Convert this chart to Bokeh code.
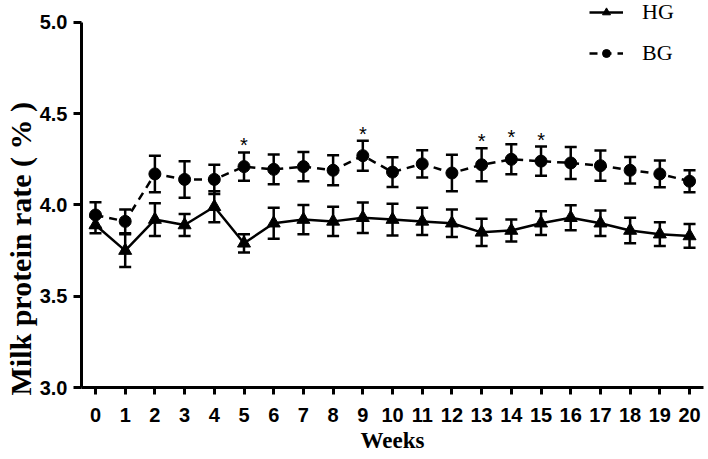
import numpy as np
from bokeh.plotting import figure
from bokeh.models import (ColumnDataSource, Whisker, TeeHead, FixedTicker, Legend, LegendItem,
                          Title, NumeralTickFormatter, Range1d)
from bokeh.core.properties import value
from bokeh.embed import file_html
from bokeh.resources import INLINE

weeks = list(range(21))
week_labels = [str(w) for w in weeks]
hg_mean = [3.89, 3.75, 3.92, 3.89, 3.99, 3.79, 3.90, 3.92, 3.91, 3.93, 3.92,
           3.91, 3.90, 3.85, 3.86, 3.90, 3.93, 3.90, 3.86, 3.84, 3.83]
hg_err = [0.045, 0.09, 0.09, 0.06, 0.085, 0.05, 0.085, 0.08, 0.08, 0.083, 0.087,
          0.075, 0.075, 0.075, 0.06, 0.065, 0.068, 0.07, 0.07, 0.065, 0.065]
bg_mean = [3.945, 3.91, 4.17, 4.14, 4.14, 4.21, 4.195, 4.21, 4.19, 4.27, 4.18,
           4.225, 4.175, 4.22, 4.25, 4.24, 4.23, 4.215, 4.19, 4.17, 4.13]
bg_err = [0.07, 0.065, 0.10, 0.10, 0.08, 0.078, 0.082, 0.08, 0.082, 0.082, 0.082,
          0.075, 0.10, 0.09, 0.082, 0.08, 0.088, 0.083, 0.073, 0.073, 0.06]
sig_weeks = [5, 9, 13, 14, 15]
y_ticks = [3.0, 3.5, 4.0, 4.5, 5.0]

hg = ColumnDataSource(dict(x=weeks, y=hg_mean,
                           lo=[m - e for m, e in zip(hg_mean, hg_err)],
                           hi=[m + e for m, e in zip(hg_mean, hg_err)]))
bg = ColumnDataSource(dict(x=weeks, y=bg_mean,
                           lo=[m - e for m, e in zip(bg_mean, bg_err)],
                           hi=[m + e for m, e in zip(bg_mean, bg_err)]))
sig = ColumnDataSource(dict(x=sig_weeks,
                            y=[bg_mean[w] + bg_err[w] for w in sig_weeks],
                            t=["*"] * len(sig_weeks)))

p = figure(width=708, height=459, output_backend="svg", toolbar_location=None,
           x_range=Range1d(-0.471, 20.47), y_range=Range1d(3.0, 5.12),
           min_border_left=81, min_border_right=5, min_border_top=0, min_border_bottom=72)
p.background_fill_color = "white"
p.border_fill_color = "white"
p.outline_line_color = None
p.xgrid.visible = False
p.ygrid.visible = False

BLACK = "#000000"

# error bars
for src in (hg, bg):
    w = Whisker(source=src, base="x", lower="lo", upper="hi", line_color=BLACK, line_width=2.5,
                upper_head=TeeHead(size=12, line_width=2.5, line_color=BLACK),
                lower_head=TeeHead(size=12, line_width=2.5, line_color=BLACK))
    p.add_layout(w)

hg_line = p.line("x", "y", source=hg, line_color=BLACK, line_width=2.5)
hg_pts = p.scatter("x", "y", source=hg, marker="triangle", size=13, fill_color=BLACK, line_color=BLACK)
bg_line = p.line("x", "y", source=bg, line_color=BLACK, line_width=2.5, line_dash="8 6")
bg_pts = p.scatter("x", "y", source=bg, marker="circle", size=12, fill_color=BLACK, line_color=BLACK)

p.text("x", "y", text="t", source=sig, text_align="center", text_baseline="middle",
       y_offset=-7, text_font=value("Liberation Sans"), text_font_size="20px", text_color=BLACK)

# axes
for ax in (p.xaxis[0], p.yaxis[0]):
    ax.axis_line_width = 3
    ax.axis_line_color = BLACK
    ax.major_tick_line_width = 3
    ax.major_tick_line_color = BLACK
    ax.major_tick_in = 0
    ax.minor_tick_line_color = None
    ax.major_label_text_font = "Liberation Sans"
    ax.major_label_text_font_style = "bold"
    ax.major_label_text_font_size = "20px"
    ax.major_label_text_color = BLACK

p.xaxis.ticker = FixedTicker(ticks=weeks)
p.xaxis.major_label_overrides = {w: s for w, s in zip(weeks, week_labels)}
p.xaxis.major_tick_out = 7
p.xaxis.major_label_standoff = 13
p.xaxis.axis_label = "Weeks"
p.xaxis.axis_label_text_font = "Liberation Serif"
p.xaxis.axis_label_text_font_style = "bold"
p.xaxis.axis_label_text_font_size = "23px"
p.xaxis.axis_label_text_color = BLACK
p.xaxis.axis_label_standoff = 3

p.yaxis.ticker = FixedTicker(ticks=y_ticks)
p.yaxis.bounds = (3.0, 5.0)
p.yaxis.formatter = NumeralTickFormatter(format="0.0")
p.yaxis.major_tick_out = 8
p.yaxis.major_label_standoff = 6

ytitle = Title(text="Milk protein rate ( % )", align="left", offset=-8, standoff=0,
               text_font="Liberation Serif", text_font_style="bold", text_font_size="30px",
               text_color=BLACK)
p.add_layout(ytitle, "left")

legend = Legend(items=[LegendItem(label="HG", renderers=[hg_line, hg_pts]),
                       LegendItem(label="BG", renderers=[bg_line, bg_pts])],
                location=(508, 321), orientation="vertical",
                label_text_font="Liberation Serif", label_text_font_size="22px",
                label_text_color=BLACK, glyph_width=34, glyph_height=20,
                label_standoff=19, spacing=15, padding=0, margin=0,
                border_line_color=None, background_fill_alpha=0)
p.add_layout(legend, "center")

open("out.html", "w").write(file_html(p, INLINE))
